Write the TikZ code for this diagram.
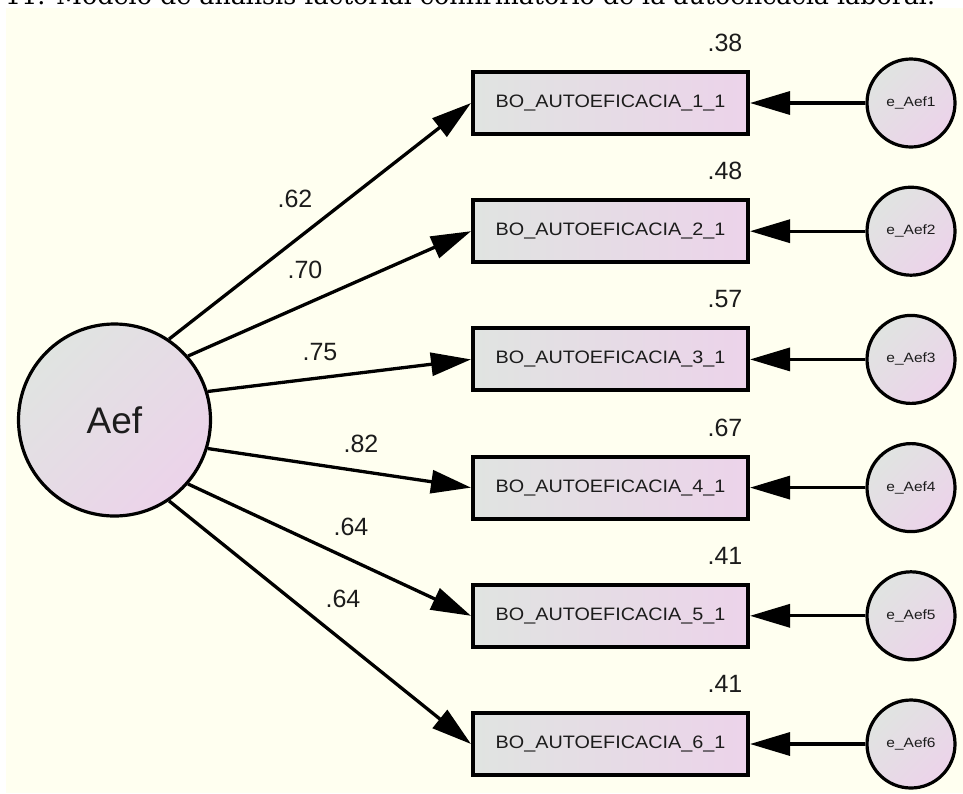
\documentclass[tikz,border=0pt]{standalone}
\usepackage{fontspec}
\setmainfont{Liberation Sans}
\newfontfamily\capfont{DejaVu Serif}
\usetikzlibrary{arrows.meta}
\definecolor{paper}{RGB}{255,255,240}
\definecolor{shadeA}{RGB}{224,228,225}
\definecolor{shadeB}{RGB}{236,211,234}
\definecolor{ink}{RGB}{28,28,28}

\begin{document}
\begin{tikzpicture}[x=1pt,y=-1pt,
  every node/.style={text=ink},
  latent/.style={circle, draw=black, line width=3.2pt, inner sep=0pt,
    top color=shadeA, bottom color=shadeB, shading angle=45},
  obs/.style={rectangle, draw=black, line width=4pt, inner sep=0pt,
    minimum width=275pt, minimum height=62pt,
    left color=shadeA, right color=shadeB,
    font=\fontsize{18}{18}\selectfont},
  errc/.style={latent, minimum size=88pt, font=\fontsize{13.5}{13.5}\selectfont},
  coef/.style={inner sep=0pt, font=\fontsize{25}{25}\selectfont},
  path/.style={draw=black, line width=3.3pt, -{Triangle[length=40pt,width=23pt]}}
]
\useasboundingbox (0,0) rectangle (963,793);
\fill[white] (0,0) rectangle (963,793);
\fill[paper] (6,8) rectangle (963,793);

% caption line of the page, only its lower edge falls inside the frame
\begin{scope}
  \clip (0,0) rectangle (963,8);
  \node[anchor=base west, inner sep=0pt, text=black,
        font=\capfont\fontsize{22}{22}\selectfont] (cap) at (5,4)
    {\resizebox{930pt}{!}{11. Modelo de análisis factorial confirmatorio de la autoeficacia laboral.}};
\end{scope}

% latent factor
\node[latent, minimum size=192pt, font=\fontsize{37}{37}\selectfont] (A) at (114.5,420) {Aef};

% indicators, their errors and squared multiple correlations
\foreach \i/\y/\r in {1/103/.38, 2/231.2/.48, 3/359.4/.57, 4/487.6/.67, 5/615.8/.41, 6/744/.41}{
  \node[obs] (b\i) at (610.5,\y) {\scalebox{1.1}[1]{BO\_AUTOEFICACIA\_\i\_1}};
  \node[errc] (e\i) at (911,\y) {\scalebox{1.15}[1]{e\_Aef\i}};
  \node[coef] (r\i) at (725,\y-60) {\r};
  \draw[path] (e\i) -- (b\i);
}

% factor loadings
\foreach \i/\a/\v/\lx/\ly in {1/56.2/.62/295/199, 2/41.9/.70/305/270, 3/17.2/.75/320/352,
                              4/-17.2/.82/361/444, 5/-41.9/.64/351/527, 6/-56.2/.64/343/599}{
  \draw[path] (A.\a) -- (b\i.west);
  \node[coef] (l\i) at (\lx,\ly) {\v};
}
\end{tikzpicture}
\end{document}
